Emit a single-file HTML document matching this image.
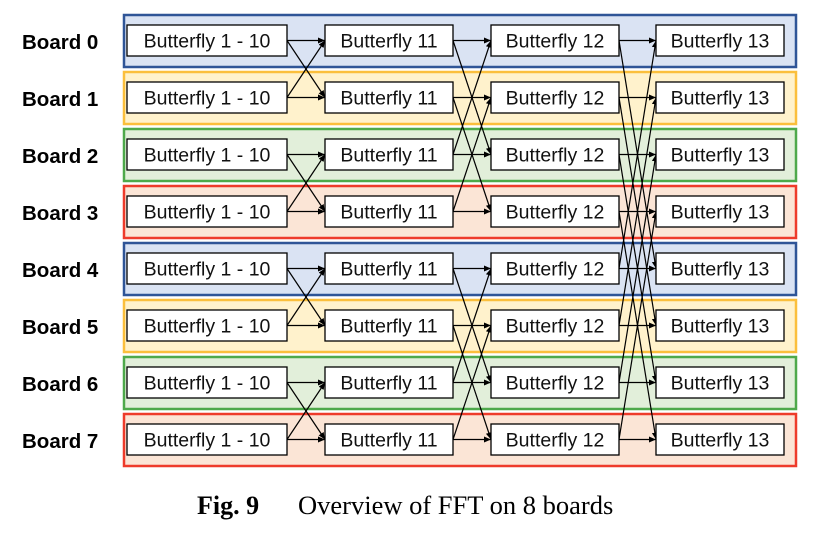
<!DOCTYPE html>
<html><head><meta charset="utf-8"><style>
body{margin:0;background:#fff;}
svg{display:block;}
.bl{font-family:"Liberation Sans",sans-serif;font-weight:bold;font-size:20.5px;}
.bx{font-family:"Liberation Sans",sans-serif;font-size:19.5px;}
line{stroke:#000;stroke-width:1.2;marker-end:url(#a);}
</style></head><body>
<svg width="820" height="534" viewBox="0 0 820 534">
<defs><marker id="a" markerWidth="8" markerHeight="8" refX="7" refY="4" orient="auto" markerUnits="userSpaceOnUse"><path d="M0,1 L7,4 L0,7 z" fill="#000"/></marker></defs>
<g stroke-width="2.5">
<rect x="124" y="15" width="672" height="52" fill="#dae3f3" stroke="#2f5597"/>
<rect x="124" y="72" width="672" height="52" fill="#fff2cc" stroke="#fbbf3c"/>
<rect x="124" y="129" width="672" height="52" fill="#e2efda" stroke="#4ea94b"/>
<rect x="124" y="186" width="672" height="52" fill="#fbe5d6" stroke="#ee3b2b"/>
<rect x="124" y="243" width="672" height="52" fill="#dae3f3" stroke="#2f5597"/>
<rect x="124" y="300" width="672" height="52" fill="#fff2cc" stroke="#fbbf3c"/>
<rect x="124" y="357" width="672" height="52" fill="#e2efda" stroke="#4ea94b"/>
<rect x="124" y="414" width="672" height="52" fill="#fbe5d6" stroke="#ee3b2b"/>
</g>
<g class="bl">
<text x="22" y="49">Board 0</text><text x="22" y="106">Board 1</text><text x="22" y="163">Board 2</text><text x="22" y="220">Board 3</text>
<text x="22" y="277">Board 4</text><text x="22" y="334">Board 5</text><text x="22" y="391">Board 6</text><text x="22" y="448">Board 7</text>
</g>
<g>
<line x1="287" y1="40.5" x2="325" y2="40.5"/><line x1="287" y1="40.5" x2="325" y2="97.5"/>
<line x1="287" y1="97.5" x2="325" y2="97.5"/><line x1="287" y1="97.5" x2="325" y2="40.5"/>
<line x1="287" y1="154.5" x2="325" y2="154.5"/><line x1="287" y1="154.5" x2="325" y2="211.5"/>
<line x1="287" y1="211.5" x2="325" y2="211.5"/><line x1="287" y1="211.5" x2="325" y2="154.5"/>
<line x1="287" y1="268.5" x2="325" y2="268.5"/><line x1="287" y1="268.5" x2="325" y2="325.5"/>
<line x1="287" y1="325.5" x2="325" y2="325.5"/><line x1="287" y1="325.5" x2="325" y2="268.5"/>
<line x1="287" y1="382.5" x2="325" y2="382.5"/><line x1="287" y1="382.5" x2="325" y2="439.5"/>
<line x1="287" y1="439.5" x2="325" y2="439.5"/><line x1="287" y1="439.5" x2="325" y2="382.5"/>
<line x1="453" y1="40.5" x2="491" y2="40.5"/><line x1="453" y1="40.5" x2="491" y2="154.5"/>
<line x1="453" y1="97.5" x2="491" y2="97.5"/><line x1="453" y1="97.5" x2="491" y2="211.5"/>
<line x1="453" y1="154.5" x2="491" y2="154.5"/><line x1="453" y1="154.5" x2="491" y2="40.5"/>
<line x1="453" y1="211.5" x2="491" y2="211.5"/><line x1="453" y1="211.5" x2="491" y2="97.5"/>
<line x1="453" y1="268.5" x2="491" y2="268.5"/><line x1="453" y1="268.5" x2="491" y2="382.5"/>
<line x1="453" y1="325.5" x2="491" y2="325.5"/><line x1="453" y1="325.5" x2="491" y2="439.5"/>
<line x1="453" y1="382.5" x2="491" y2="382.5"/><line x1="453" y1="382.5" x2="491" y2="268.5"/>
<line x1="453" y1="439.5" x2="491" y2="439.5"/><line x1="453" y1="439.5" x2="491" y2="325.5"/>
<line x1="619" y1="40.5" x2="656" y2="40.5"/><line x1="619" y1="40.5" x2="656" y2="268.5"/>
<line x1="619" y1="97.5" x2="656" y2="97.5"/><line x1="619" y1="97.5" x2="656" y2="325.5"/>
<line x1="619" y1="154.5" x2="656" y2="154.5"/><line x1="619" y1="154.5" x2="656" y2="382.5"/>
<line x1="619" y1="211.5" x2="656" y2="211.5"/><line x1="619" y1="211.5" x2="656" y2="439.5"/>
<line x1="619" y1="268.5" x2="656" y2="268.5"/><line x1="619" y1="268.5" x2="656" y2="40.5"/>
<line x1="619" y1="325.5" x2="656" y2="325.5"/><line x1="619" y1="325.5" x2="656" y2="97.5"/>
<line x1="619" y1="382.5" x2="656" y2="382.5"/><line x1="619" y1="382.5" x2="656" y2="154.5"/>
<line x1="619" y1="439.5" x2="656" y2="439.5"/><line x1="619" y1="439.5" x2="656" y2="211.5"/>
</g>
<g id="rows" fill="#fff" stroke="#000" stroke-width="1.3" class="bx">
</g>
<script>
var g=document.getElementById('rows'),ns='http://www.w3.org/2000/svg';
var cols=[[127,160,'Butterfly 1 - 10'],[325,128,'Butterfly 11'],[491,128,'Butterfly 12'],[656,128,'Butterfly 13']];
for(var i=0;i<8;i++){var y=25+57*i;cols.forEach(function(c){
var r=document.createElementNS(ns,'rect');r.setAttribute('x',c[0]);r.setAttribute('y',y);r.setAttribute('width',c[1]);r.setAttribute('height',31);g.appendChild(r);
var t=document.createElementNS(ns,'text');t.setAttribute('x',c[0]+c[1]/2);t.setAttribute('y',y+22.5);t.setAttribute('text-anchor','middle');t.setAttribute('fill','#111');t.setAttribute('stroke','none');t.textContent=c[2];g.appendChild(t);});}
</script>
<text x="197" y="514" font-family="Liberation Serif,serif" font-size="26" font-weight="bold">Fig. 9</text>
<text x="298" y="514" font-family="Liberation Serif,serif" font-size="26.5">Overview of FFT on 8 boards</text>
</svg>
</body></html>
